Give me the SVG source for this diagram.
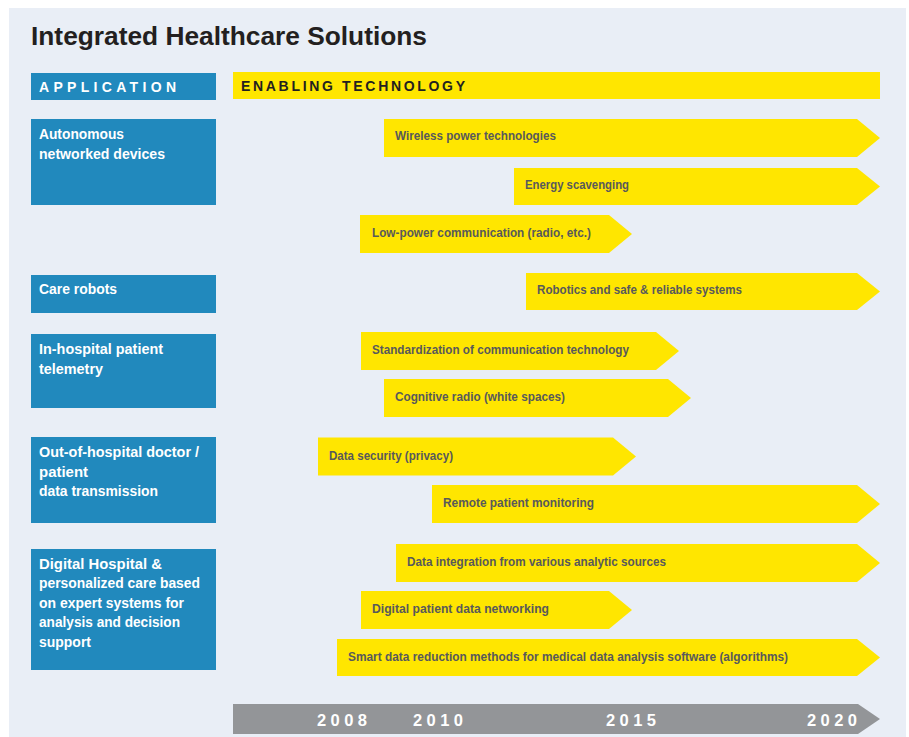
<svg xmlns="http://www.w3.org/2000/svg" width="909" height="737" viewBox="0 0 909 737">
<style>
.bg{fill:#E9EEF6}
.app{fill:#2189BD}
.tech{fill:#FFE600}
.tl{fill:#939598}
.title{font-family:"Liberation Sans",Arial,sans-serif;font-weight:bold;font-size:26px;fill:#231F20}
.hdr{font-family:"Liberation Sans",Arial,sans-serif;font-weight:bold;font-size:14px}
.ntxt{font-family:"Liberation Sans",Arial,sans-serif;font-weight:bold;font-size:15.5px;fill:#FFFFFF}
.atxt{font-family:"Liberation Sans",Arial,sans-serif;font-weight:bold;font-size:13.5px;fill:#58595B}
.yr{font-family:"Liberation Sans",Arial,sans-serif;font-weight:bold;font-size:16.5px;fill:#FFFFFF}
</style>
<rect x="0" y="0" width="909" height="737" fill="#FFFFFF"/>
<rect class="bg" x="9" y="8" width="897" height="729"/>
<text class="title" x="31" y="45" textLength="396" lengthAdjust="spacingAndGlyphs">Integrated Healthcare Solutions</text>

<g id="header-application">
<rect class="app" x="31" y="73" width="185" height="27"/>
<text class="hdr" x="39" y="91.5" fill="#FFFFFF" textLength="137" lengthAdjust="spacing">APPLICATION</text>
</g>
<g id="header-technology">
<rect class="tech" x="233" y="72" width="647" height="27"/>
<text class="hdr" x="241" y="91" fill="#231F20" textLength="224" lengthAdjust="spacing">ENABLING TECHNOLOGY</text>
</g>

<g id="app-autonomous">
<rect class="app" x="31" y="119" width="185" height="86"/>
<text class="ntxt" x="39" y="139" textLength="85" lengthAdjust="spacingAndGlyphs">Autonomous</text>
<text class="ntxt" x="39" y="158.5" textLength="126" lengthAdjust="spacingAndGlyphs">networked devices</text>
</g>
<g id="app-care-robots">
<rect class="app" x="31" y="275" width="185" height="38"/>
<text class="ntxt" x="39" y="294" textLength="78" lengthAdjust="spacingAndGlyphs">Care robots</text>
</g>
<g id="app-in-hospital">
<rect class="app" x="31" y="334" width="185" height="74"/>
<text class="ntxt" x="39" y="354" textLength="124" lengthAdjust="spacingAndGlyphs">In-hospital patient</text>
<text class="ntxt" x="39" y="373.5" textLength="64" lengthAdjust="spacingAndGlyphs">telemetry</text>
</g>
<g id="app-out-of-hospital">
<rect class="app" x="31" y="437" width="185" height="86"/>
<text class="ntxt" x="39" y="457" textLength="160" lengthAdjust="spacingAndGlyphs">Out-of-hospital doctor /</text>
<text class="ntxt" x="39" y="476.5" textLength="49" lengthAdjust="spacingAndGlyphs">patient</text>
<text class="ntxt" x="39" y="496" textLength="119" lengthAdjust="spacingAndGlyphs">data transmission</text>
</g>
<g id="app-digital-hospital">
<rect class="app" x="31" y="549" width="185" height="121"/>
<text class="ntxt" x="39" y="568.5" textLength="123" lengthAdjust="spacingAndGlyphs">Digital Hospital  &amp;</text>
<text class="ntxt" x="39" y="588" textLength="161" lengthAdjust="spacingAndGlyphs">personalized care based</text>
<text class="ntxt" x="39" y="607.5" textLength="145" lengthAdjust="spacingAndGlyphs">on expert systems for</text>
<text class="ntxt" x="39" y="627" textLength="141" lengthAdjust="spacingAndGlyphs">analysis and decision</text>
<text class="ntxt" x="39" y="646.5" textLength="52" lengthAdjust="spacingAndGlyphs">support</text>
</g>

<g id="tech-wireless-power">
<polygon class="tech" points="384,119 857,119 880,138 857,157 384,157"/>
<text class="atxt" x="395" y="140" textLength="161" lengthAdjust="spacingAndGlyphs">Wireless power technologies</text>
</g>
<g id="tech-energy-scavenging">
<polygon class="tech" points="514,168 857,168 880,186.5 857,205 514,205"/>
<text class="atxt" x="525" y="188.5" textLength="104" lengthAdjust="spacingAndGlyphs">Energy scavenging</text>
</g>
<g id="tech-low-power">
<polygon class="tech" points="360,215 609,215 632,234 609,253 360,253"/>
<text class="atxt" x="372" y="237" textLength="219" lengthAdjust="spacingAndGlyphs">Low-power communication (radio, etc.)</text>
</g>
<g id="tech-robotics">
<polygon class="tech" points="526,273 857,273 880,291.5 857,310 526,310"/>
<text class="atxt" x="537" y="294" textLength="205" lengthAdjust="spacingAndGlyphs">Robotics and safe &amp; reliable systems</text>
</g>
<g id="tech-standardization">
<polygon class="tech" points="361,332 656,332 679,351 656,370 361,370"/>
<text class="atxt" x="372" y="353.5" textLength="257" lengthAdjust="spacingAndGlyphs">Standardization of communication technology</text>
</g>
<g id="tech-cognitive-radio">
<polygon class="tech" points="384,379 668,379 691,398 668,417 384,417"/>
<text class="atxt" x="395" y="400.5" textLength="170" lengthAdjust="spacingAndGlyphs">Cognitive radio (white spaces)</text>
</g>
<g id="tech-data-security">
<polygon class="tech" points="318,437.5 613,437.5 636,456.5 613,475.5 318,475.5"/>
<text class="atxt" x="329" y="459.5" textLength="124" lengthAdjust="spacingAndGlyphs">Data security (privacy)</text>
</g>
<g id="tech-remote-monitoring">
<polygon class="tech" points="432,485 857,485 880,504 857,523 432,523"/>
<text class="atxt" x="443" y="506.5" textLength="151" lengthAdjust="spacingAndGlyphs">Remote patient monitoring</text>
</g>
<g id="tech-data-integration">
<polygon class="tech" points="396,544 857,544 880,563 857,582 396,582"/>
<text class="atxt" x="407" y="565.5" textLength="259" lengthAdjust="spacingAndGlyphs">Data integration from various analytic sources</text>
</g>
<g id="tech-digital-networking">
<polygon class="tech" points="361,591 609,591 632,610 609,629 361,629"/>
<text class="atxt" x="372" y="613" textLength="177" lengthAdjust="spacingAndGlyphs">Digital patient data networking</text>
</g>
<g id="tech-smart-data">
<polygon class="tech" points="337,639 857,639 880,657.5 857,676 337,676"/>
<text class="atxt" x="348" y="660.5" textLength="440" lengthAdjust="spacingAndGlyphs">Smart data reduction methods for medical data analysis software (algorithms)</text>
</g>

<g id="timeline">
<polygon class="tl" points="233,704 858,704 880,719 858,734 233,734"/>
<text class="yr" x="317" y="726" textLength="50" lengthAdjust="spacing">2008</text>
<text class="yr" x="413" y="726" textLength="50" lengthAdjust="spacing">2010</text>
<text class="yr" x="606" y="726" textLength="50" lengthAdjust="spacing">2015</text>
<text class="yr" x="807" y="726" textLength="50" lengthAdjust="spacing">2020</text>
</g>
<g id="connectors"/>
</svg>
